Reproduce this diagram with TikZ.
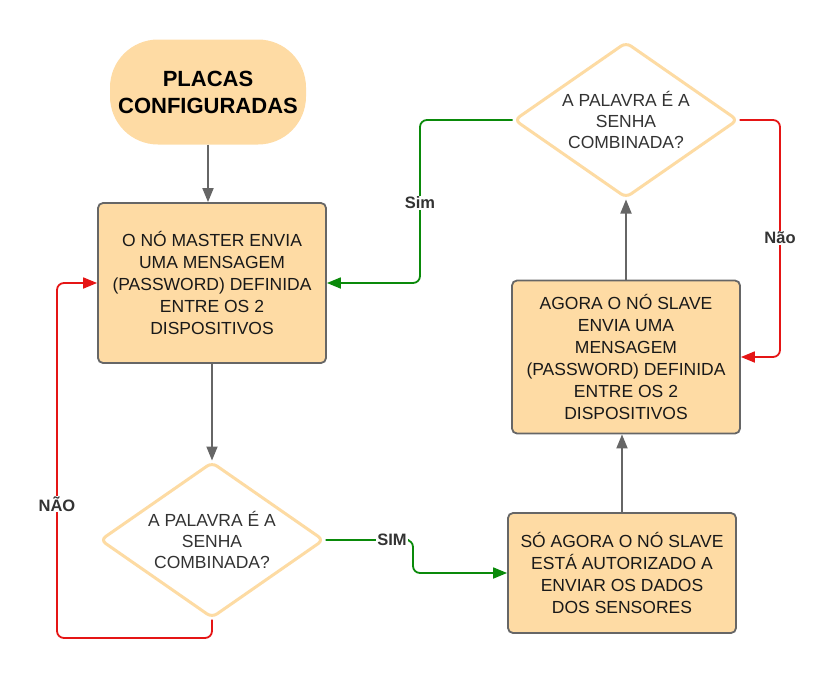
\documentclass[tikz,border=0pt]{standalone}
\usepackage{fontspec}
\setmainfont{Liberation Sans}
\usetikzlibrary{shapes.geometric,arrows.meta,calc}
\definecolor{boxfill}{HTML}{FEDBA4}
\definecolor{dborder}{HTML}{FDDBA3}
\definecolor{edgegray}{HTML}{666666}
\definecolor{ygreen}{HTML}{0A8A0A}
\definecolor{nred}{HTML}{E51515}
\definecolor{dtext}{HTML}{333333}
\tikzset{
  procbox/.style={draw=edgegray, line width=1.8pt, fill=boxfill, rounded corners=5pt,
    minimum width=228pt, inner sep=0pt, align=center, text=black!90, font=\fontsize{17.5}{22}\selectfont},
  decbox/.style={shape=diamond, aspect=1.436, draw=dborder, line width=3pt, fill=white, rounded corners=6pt,
    minimum width=224pt, minimum height=156pt, inner sep=0pt, align=center, text=dtext,
    font=\fontsize{17.5}{21}\selectfont},
  termbox/.style={fill=boxfill, rounded corners=48pt, minimum width=196pt, minimum height=105pt,
    align=center, font=\fontsize{22}{27}\selectfont\bfseries},
  grayarrow/.style={draw=edgegray, line width=1.8pt, -{Triangle[length=14pt,width=11pt]}},
  yesarrow/.style={draw=ygreen, line width=1.8pt, rounded corners=7pt, -{Triangle[length=14pt,width=11pt]}},
  noarrow/.style={draw=nred, line width=1.8pt, rounded corners=7pt, -{Triangle[length=14pt,width=11pt]}},
  elabel/.style={fill=white, inner sep=1pt, text=dtext, font=\fontsize{16.5}{18}\selectfont\bfseries},
}
\begin{document}
\begin{tikzpicture}[x=1pt,y=-1pt]
\path[use as bounding box] (0,0) rectangle (839,681);
\node[termbox] (start) at (208,92) {PLACAS\\CONFIGURADAS};
\node[procbox, minimum height=160pt] (b1) at (212,283) {O NÓ MASTER ENVIA\\UMA MENSAGEM\\(PASSWORD) DEFINIDA\\ENTRE OS 2\\DISPOSITIVOS};
\node[decbox] (d1) at (212,540) {A PALAVRA É A\\SENHA\\COMBINADA?};
\node[procbox, minimum height=120pt] (b3) at (622,573) {SÓ AGORA O NÓ SLAVE\\ESTÁ AUTORIZADO A\\ENVIAR OS DADOS\\DOS SENSORES};
\node[procbox, minimum height=153pt] (b2) at (626,357) {AGORA O NÓ SLAVE\\ENVIA UMA\\MENSAGEM\\(PASSWORD) DEFINIDA\\ENTRE OS 2\\DISPOSITIVOS};
\node[decbox] (d2) at (626,120) {A PALAVRA É A\\SENHA\\COMBINADA?};

\coordinate (c1) at (57,638);
\coordinate (c2) at (420,120);
\coordinate (c3) at (780,120);
\coordinate (s1) at (402,540);
\coordinate (s2) at (413,573);

\draw[grayarrow] (start.south) -- (start.south |- b1.north);
\draw[grayarrow] (b1.south) -- (d1.north);
\draw[grayarrow] (b3.north) -- (b3.north |- b2.south);
\draw[grayarrow] (b2.north) -- (d2.south);

\draw[noarrow] (d1.south) |- (c1) |- (b1.west);
\node[elabel] (lnao1) at (57,504) {NÃO};

\draw[yesarrow] (d1.east) -- (s1) -| (s2) -- (b3.west);
\node[elabel] (lsim1) at (392,540) {SIM};

\draw[yesarrow] (d2.west) -- (c2) |- (b1.east);
\node[elabel] (lsim2) at (420,203) {Sim};

\draw[noarrow] (d2.east) -- (c3) |- (b2.east);
\node[elabel] (lnao2) at (780,238) {Não};
\end{tikzpicture}
\end{document}
